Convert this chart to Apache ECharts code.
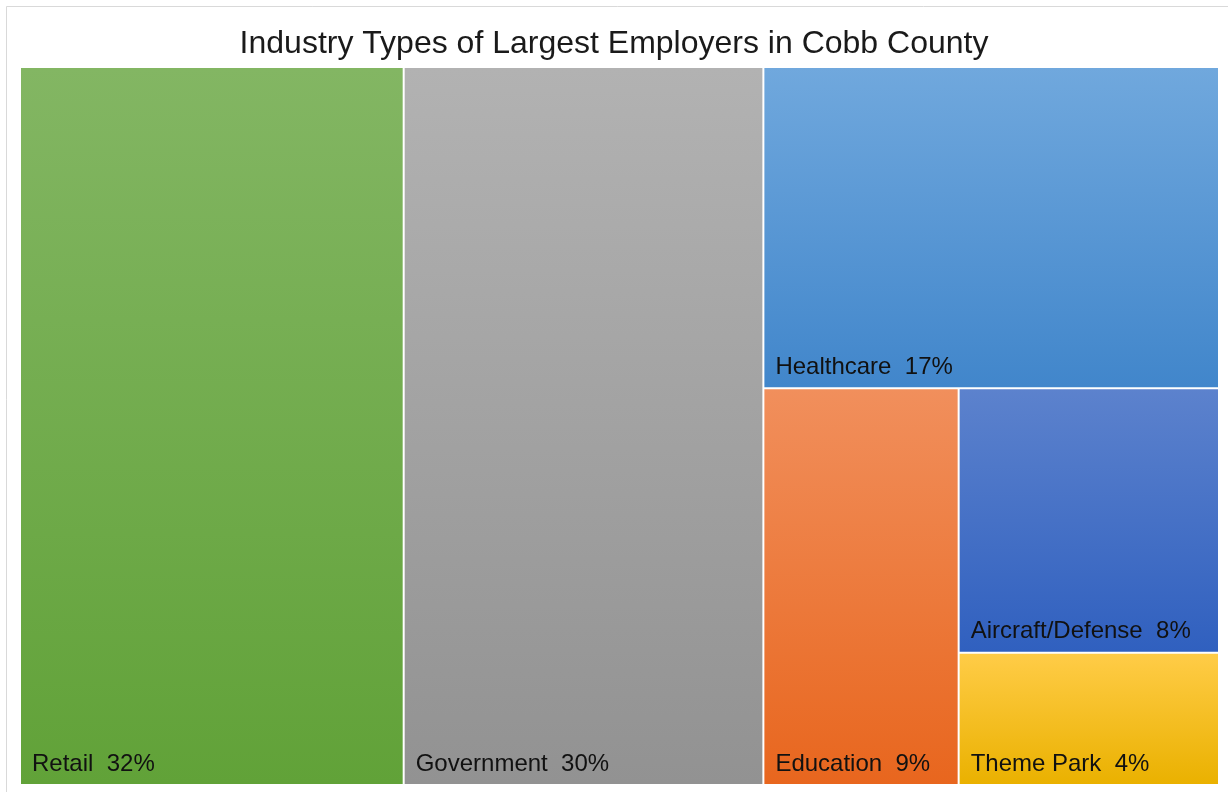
<!DOCTYPE html>
<html>
<head>
<meta charset="utf-8">
<title>Industry Types of Largest Employers in Cobb County</title>
<script src="https://cdn.jsdelivr.net/npm/echarts@6/dist/echarts.min.js"></script>
<style>
  html, body { margin: 0; padding: 0; background: #ffffff; }
  #chart { width: 1228px; height: 792px; }
</style>
</head>
<body>
<div id="chart"></div>
<script>
// Share of the county's largest employers by industry (percent)
const industries = ['Retail', 'Government', 'Healthcare', 'Education', 'Aircraft/Defense', 'Theme Park'];
const shares = [32, 30, 17, 9, 8, 4];
// Vertical gradient per tile: [top colour, bottom colour]
const tileColors = [
  ['#83b663', '#61a238'],
  ['#b2b2b2', '#929292'],
  ['#70a8dd', '#4186cb'],
  ['#f18f5c', '#e8661e'],
  ['#5c82cd', '#3060bf'],
  ['#ffcc47', '#eab100']
];

const data = industries.map(function (name, i) {
  return {
    name: name,
    value: shares[i],
    itemStyle: {
      color: {
        type: 'linear', x: 0, y: 0, x2: 0, y2: 1,
        colorStops: [
          { offset: 0, color: tileColors[i][0] },
          { offset: 1, color: tileColors[i][1] }
        ]
      }
    }
  };
});

const chart = echarts.init(document.getElementById('chart'), null, { renderer: 'canvas' });
chart.setOption({
  backgroundColor: '#ffffff',
  animation: false,
  title: {
    text: 'Industry Types of Largest Employers in Cobb County',
    left: 'center',
    top: 23,
    textStyle: {
      fontFamily: '"Liberation Sans", Arial, sans-serif',
      fontSize: 32,
      fontWeight: 'normal',
      color: '#1a1a1a'
    }
  },
  graphic: [{
    type: 'rect',
    silent: true,
    shape: { x: 6.5, y: 6.5, width: 1240, height: 800 },
    style: { fill: 'none', stroke: '#d9d9d9', lineWidth: 1 }
  }],
  series: [{
    type: 'treemap',
    left: 21,
    top: 68,
    width: 1197,
    height: 716,
    roam: false,
    nodeClick: false,
    breadcrumb: { show: false },
    squareRatio: 0.9,
    sort: 'desc',
    data: data,
    levels: [{
      itemStyle: { borderWidth: 0, gapWidth: 2, borderColor: '#ffffff' }
    }],
    label: {
      show: true,
      position: 'insideBottomLeft',
      distance: 0,
      padding: [0, 0, 8, 11],
      formatter: '{b}  {c}%',
      fontFamily: '"Liberation Sans", Arial, sans-serif',
      fontSize: 24,
      color: '#111111'
    },
    upperLabel: { show: false },
    emphasis: { disabled: true }
  }]
});
</script>
</body>
</html>
